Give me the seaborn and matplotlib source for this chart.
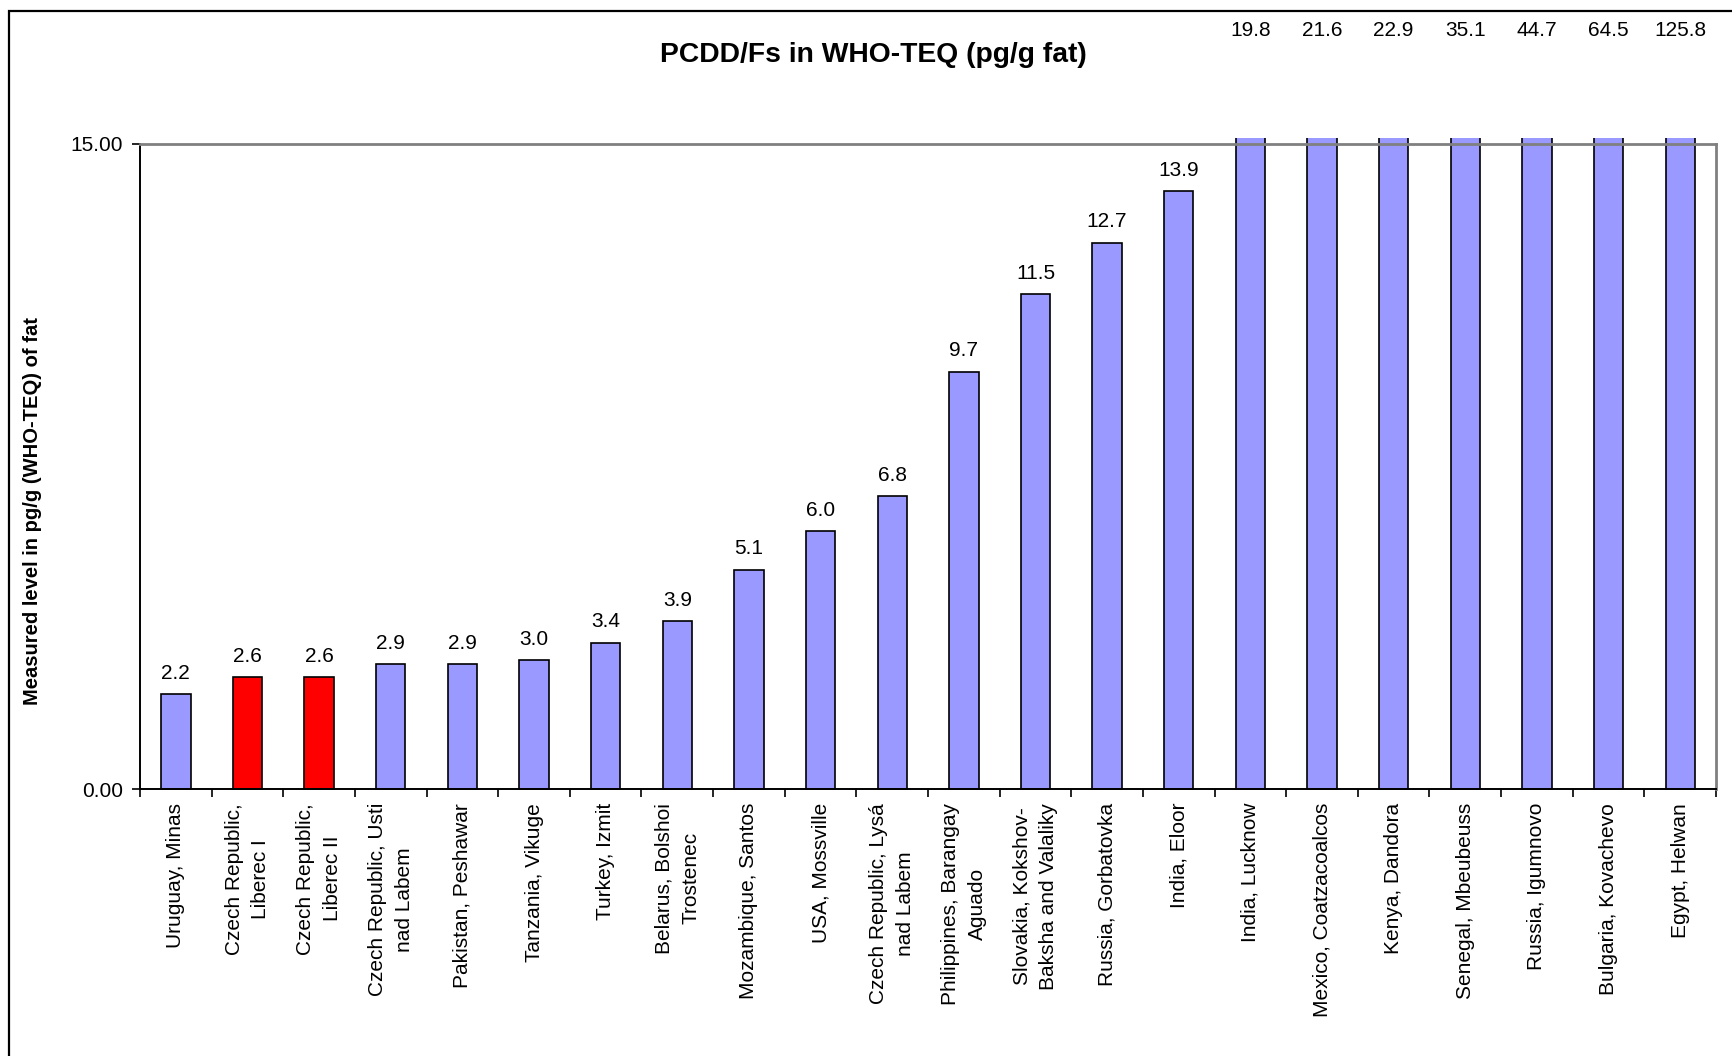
import matplotlib
matplotlib.use("Agg")
import matplotlib.pyplot as plt
from matplotlib.patches import Rectangle
import seaborn as sns
import pandas as pd

# Sampling sites, ordered by measured level
sites = [
    "Uruguay, Minas",
    "Czech Republic,\nLiberec I",
    "Czech Republic,\nLiberec II",
    "Czech Republic, Usti\nnad Labem",
    "Pakistan, Peshawar",
    "Tanzania, Vikuge",
    "Turkey, Izmit",
    "Belarus, Bolshoi\nTrostenec",
    "Mozambique, Santos",
    "USA, Mossville",
    "Czech Republic, Lysá\nnad Labem",
    "Philippines, Barangay\nAguado",
    "Slovakia, Kokshov-\nBaksha and Valaliky",
    "Russia, Gorbatovka",
    "India, Eloor",
    "India, Lucknow",
    "Mexico, Coatzacoalcos",
    "Kenya, Dandora",
    "Senegal, Mbeubeuss",
    "Russia, Igumnovo",
    "Bulgaria, Kovachevo",
    "Egypt, Helwan",
]

# PCDD/Fs in WHO-TEQ, pg/g fat
levels = [2.2, 2.6, 2.6, 2.9, 2.9, 3.0, 3.4, 3.9, 5.1, 6.0, 6.8,
          9.7, 11.5, 12.7, 13.9, 19.8, 21.6, 22.9, 35.1, 44.7, 64.5, 125.8]

# Sites shown in red
highlighted = ["Czech Republic,\nLiberec I", "Czech Republic,\nLiberec II"]

y_ticks = [0.0, 15.0]
y_max = 15.0

df = pd.DataFrame({"site": sites, "level": levels})

base_color = "#9999FF"
hi_color = "#FF0000"
palette = {s: (hi_color if s in highlighted else base_color) for s in sites}

sns.set_theme(style="white")
plt.rcParams["font.family"] = ["Liberation Sans", "DejaVu Sans"]
plt.rcParams["text.color"] = "black"
plt.rcParams["axes.labelcolor"] = "black"
plt.rcParams["xtick.color"] = "black"
plt.rcParams["ytick.color"] = "black"

fig = plt.figure(figsize=(17.33, 10.56), dpi=100)
ax = fig.add_axes([0.0808, 0.2528, 0.9094, 0.6112])

sns.barplot(data=df, x="site", y="level", hue="site", order=sites,
            hue_order=sites, palette=palette, legend=False, width=0.41,
            edgecolor="black", linewidth=1.2, saturation=1, ax=ax)

ax.set_ylim(0, y_max)
ax.set_xlim(-0.5, len(sites) - 0.5)

# bars over the axis limit run a little past the plot-area frame
clip = Rectangle((0, -0.02), 1, 1.028, transform=ax.transAxes,
                 facecolor="none", edgecolor="none")
fig.add_artist(clip)
for p in ax.patches:
    p.set_clip_path(clip)

# value labels: above the bar, or in a row at the top for bars beyond the limit
for i, v in enumerate(levels):
    if v <= y_max:
        ax.annotate(f"{v:.1f}", xy=(i, v), xytext=(0, 11),
                    textcoords="offset points", ha="center", va="baseline",
                    fontsize=15, color="black")
    else:
        ax.annotate(f"{v:.1f}", xy=(i, 1.175), xycoords=("data", "axes fraction"),
                    ha="center", va="center", fontsize=15, color="black",
                    annotation_clip=False)

# axes styling
ax.set_xlabel("")
ax.set_ylabel("")
ax.set_yticks(y_ticks)
ax.set_yticklabels([f"{t:.2f}" for t in y_ticks], fontsize=15, color="black")
ax.tick_params(axis="y", direction="out", length=6, width=1.2, color="black",
               left=True, pad=6)

ax.set_xticks(range(len(sites)))
ax.set_xticklabels(sites, rotation=90, ha="center", va="top",
                   multialignment="center", fontsize=15, color="black")
for lbl in ax.get_xticklabels():
    lbl.set_linespacing(1.5)
ax.tick_params(axis="x", which="major", length=0, pad=10)
ax.set_xticks([i - 0.5 for i in range(len(sites) + 1)], minor=True)
ax.tick_params(axis="x", which="minor", direction="out", length=6, width=1.2,
               color="black", bottom=True)

for side in ("left", "bottom"):
    ax.spines[side].set_color("black")
    ax.spines[side].set_linewidth(1.4)
for side in ("top", "right"):
    ax.spines[side].set_visible(True)
    ax.spines[side].set_color("#808080")
    ax.spines[side].set_linewidth(2.0)

fig.text(0.504, 1 - 55 / 1056, "PCDD/Fs in WHO-TEQ (pg/g fat)",
         ha="center", va="center", fontsize=20.3, fontweight="bold",
         color="black")
fig.text(33 / 1733, 1 - 511 / 1056, "Measured level in pg/g (WHO-TEQ) of fat",
         ha="center", va="center", rotation=90, fontsize=14.5,
         fontweight="bold", color="black")

# chart-area border
fig.add_artist(Rectangle((9 / 1733, -0.1), 1.2, 1.1 - 11 / 1056,
                         transform=fig.transFigure, facecolor="none",
                         edgecolor="black", linewidth=1.6))

fig.savefig("out.png", dpi=100, facecolor="white")
